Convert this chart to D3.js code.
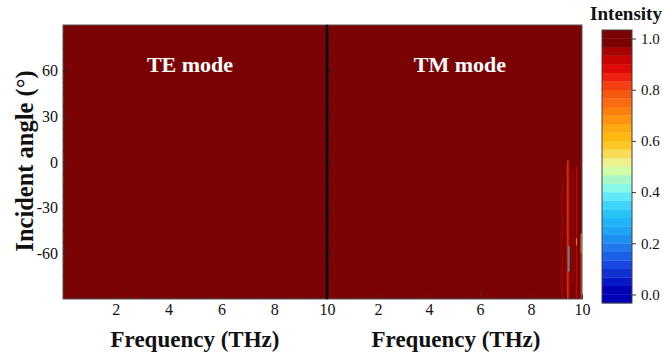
<!DOCTYPE html>
<html>
<head>
<meta charset="utf-8">
<script src="https://cdn.jsdelivr.net/npm/d3@7"></script>
<style>
  html, body { margin: 0; padding: 0; background: #fff; }
  svg { display: block; font-family: "Liberation Serif", "Times New Roman", serif; }
</style>
</head>
<body>
<svg id="chart" width="662" height="358"></svg>
<script>
// Angle-resolved intensity maps for the two polarisations
const panels = ["TE mode", "TM mode"];
const freqTicks = [2, 4, 6, 8, 10];
const angleTicks = [-60, -30, 0, 30, 60];
const intensityTicks = [0.0, 0.2, 0.4, 0.6, 0.8, 1.0];
const baseIntensity = 1.0;          // flat response over most of both maps
const FREQ_STEP = 0.04;             // THz width of one frequency column

// Narrow TM resonances near the band edge: column frequency, angle span, intensity
const tmFreq  = [9.16, 9.16, 9.16, 9.21, 9.21, 9.21, 9.37, 9.43, 9.47, 9.47, 9.47, 9.62, 9.76, 9.76, 9.76, 9.95, 9.95];
const tmFrom  = [-20,  -45,  -70,  -10,  -35,  -60,  -2,    1,    0,   -55,  -72,  -5,   -3,   -50,  -55,  -47,  -60];
const tmTo    = [-35,  -60,  -85,  -25,  -50,  -90,  -85,  -90,  -55,  -72,  -90,  -80,  -50,  -55,  -90,  -60,  -90];
const tmValue = [0.96, 0.96, 0.96, 0.95, 0.95, 0.95, 0.95, 0.74, 0.92, 0.3,  0.92, 0.96, 0.9,  0.7,  0.9,  0.55, 0.78];

// Contour-band palette (bottom to top), 1/30 wide levels
const bandColors = [
  "#0000b4", "#0000b4", "#0818c8", "#1030d0", "#1848e0", "#1c60e8", "#2078ec", "#2090f0",
  "#20a4f4", "#20b4f8", "#28c4f8", "#40d4f8", "#60e8f8", "#88f8e8", "#aaf8c8", "#d0ffa8",
  "#eef090", "#f8dc58", "#fcc828", "#fdb810", "#fca810", "#fc9410", "#fa8010", "#f86c10",
  "#f65810", "#f44010", "#ee2010", "#e00808", "#c80404", "#a80404", "#7a0404", "#7a0404"
];
const levelEdges = d3.range(0, 31).map(i => i / 30);   // thresholds between bands
const bandLow = -1 / 30, bandHigh = 1 + 1 / 30;
const color = d3.scaleThreshold().domain(levelEdges.map(v => v - 1e-9)).range(bandColors);

const svg = d3.select("#chart");
const plotTop = 25, plotBottom = 299;
const y = d3.scaleLinear().domain([-90, 90]).range([plotBottom, plotTop]);
const xs = [
  d3.scaleLinear().domain([0, 10]).range([63, 327]),
  d3.scaleLinear().domain([0, 10]).range([327, 582])
];

const tickFont = "16px";
const plain = d => String(d);     // ASCII hyphen for negative labels

panels.forEach((name, p) => {
  const x = xs[p];
  const g = svg.append("g");
  const clipId = "clip" + p;
  svg.append("clipPath").attr("id", clipId)
    .append("rect").attr("x", x(0)).attr("y", y(90))
    .attr("width", x(10) - x(0)).attr("height", y(-90) - y(90));

  const maps = g.append("g").attr("clip-path", `url(#${clipId})`);
  maps.append("rect")
    .attr("x", x(0)).attr("y", y(90))
    .attr("width", x(10) - x(0)).attr("height", y(-90) - y(90))
    .attr("fill", color(baseIntensity));

  if (p === 1) {
    maps.selectAll("rect.res")
      .data(d3.range(tmFreq.length))
      .join("rect")
      .attr("class", "res")
      .attr("x", i => x(tmFreq[i]))
      .attr("width", i => x(tmFreq[i] + FREQ_STEP) - x(tmFreq[i]))
      .attr("y", i => y(tmFrom[i]))
      .attr("height", i => y(tmTo[i]) - y(tmFrom[i]))
      .attr("fill", i => color(tmValue[i]));
  }

  // frame
  g.append("rect")
    .attr("x", x(0)).attr("y", y(90))
    .attr("width", x(10) - x(0)).attr("height", y(-90) - y(90))
    .attr("fill", "none").attr("stroke", "#555").attr("stroke-width", 1);

  // bottom axis, ticks pointing inward
  const xMinor = d3.range(0.5, 10, 0.5).filter(v => !freqTicks.includes(v));
  const xMin = g.append("g").attr("transform", `translate(0,${plotBottom})`)
    .call(d3.axisBottom(x).tickValues(xMinor).tickSize(-2.5).tickFormat(""));
  const xMaj = g.append("g").attr("transform", `translate(0,${plotBottom})`)
    .call(d3.axisBottom(x).tickValues(freqTicks).tickSize(-4.5).tickPadding(5).tickFormat(plain));
  [xMin, xMaj].forEach(a => {
    a.select(".domain").remove();
    a.selectAll("line").attr("stroke", "#333");
  });
  xMaj.selectAll("text").attr("font-size", tickFont).attr("font-family", "Liberation Serif").attr("fill", "#111");

  // left axis, ticks pointing inward
  const yMinor = d3.range(-82.5, 90, 7.5).filter(v => !angleTicks.includes(v));
  const yMin = g.append("g").attr("transform", `translate(${x(0)},0)`)
    .call(d3.axisLeft(y).tickValues(yMinor).tickSize(-2.5).tickFormat(""));
  const yMaj = g.append("g").attr("transform", `translate(${x(0)},0)`)
    .call(d3.axisLeft(y).tickValues(angleTicks).tickSize(-4.5).tickPadding(5)
      .tickFormat(p === 0 ? plain : ""));
  [yMin, yMaj].forEach(a => {
    a.select(".domain").remove();
    a.selectAll("line").attr("stroke", "#222");
  });
  yMaj.selectAll("text").attr("font-size", tickFont).attr("font-family", "Liberation Serif").attr("fill", "#111");

  // panel label
  svg.append("text")
    .attr("x", p === 0 ? 190 : 460).attr("y", 72)
    .attr("text-anchor", "middle")
    .attr("font-size", "22px").attr("font-weight", "bold")
    .attr("fill", "#fff")
    .text(name);

  // axis title
  svg.append("text")
    .attr("x", p === 0 ? 195 : 456).attr("y", 347)
    .attr("text-anchor", "middle")
    .attr("font-size", "23px").attr("font-weight", "bold")
    .attr("fill", "#111")
    .text("Frequency (THz)");
});

// divider between the two maps
svg.append("line")
  .attr("x1", xs[1](0)).attr("x2", xs[1](0))
  .attr("y1", plotTop).attr("y2", plotBottom)
  .attr("stroke", "#000").attr("stroke-width", 2.5);

// y title
svg.append("text")
  .attr("transform", `translate(33,161) rotate(-90)`)
  .attr("text-anchor", "middle")
  .attr("font-size", "24.5px").attr("font-weight", "bold")
  .attr("fill", "#111")
  .text("Incident angle (°)");

// colour bar
const cb = { x: 602, w: 30 };
const cy = d3.scaleLinear().domain([bandLow, bandHigh]).range([303, 30]);
const bands = d3.range(bandColors.length).map(i => ({ lo: bandLow + i / 30, hi: bandLow + (i + 1) / 30, c: bandColors[i] }));
svg.append("g").selectAll("rect")
  .data(bands)
  .join("rect")
  .attr("x", cb.x).attr("width", cb.w)
  .attr("y", d => cy(d.hi)).attr("height", d => cy(d.lo) - cy(d.hi) + 0.3)
  .attr("fill", d => d.c);
svg.append("rect")
  .attr("x", cb.x).attr("y", cy(bandHigh))
  .attr("width", cb.w).attr("height", cy(bandLow) - cy(bandHigh))
  .attr("fill", "none").attr("stroke", "#444").attr("stroke-width", 1);
const cbAxis = svg.append("g").attr("transform", `translate(${cb.x + cb.w},0)`)
  .call(d3.axisRight(cy).tickValues(intensityTicks).tickSize(4).tickPadding(5).tickFormat(d3.format(".1f")));
cbAxis.select(".domain").remove();
cbAxis.selectAll("line").attr("stroke", "#333");
cbAxis.selectAll("text").attr("font-size", "15px").attr("font-family", "Liberation Serif").attr("fill", "#111");

svg.append("text")
  .attr("x", 626).attr("y", 20)
  .attr("text-anchor", "middle")
  .attr("font-size", "19px").attr("font-weight", "bold")
  .attr("fill", "#111")
  .text("Intensity");
</script>
</body>
</html>
